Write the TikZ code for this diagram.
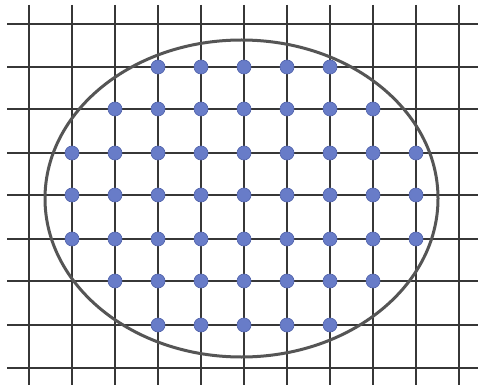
\documentclass[tikz,border=0pt]{standalone}
\definecolor{dotblue}{RGB}{104,124,200}
\definecolor{dotedge}{RGB}{80,98,170}
\definecolor{gridc}{RGB}{55,55,55}
\definecolor{ellc}{RGB}{85,85,85}
\tikzset{
  gridline/.style={draw=gridc, line width=1.1pt},
  ovalline/.style={draw=ellc, line width=3pt},
  dotmark/.style={circle, fill=dotblue, draw=dotedge, line width=0.6pt, minimum size=14pt, inner sep=0pt}
}
\begin{document}
\begin{tikzpicture}[x=1pt,y=-1pt]
\useasboundingbox (0,0) rectangle (478,387);
\fill[white] (0,0) rectangle (478,387);
\foreach \gx in {29,72,115,158,201,244,287,330,373,416,459}
  \draw[gridline] (\gx,5) -- (\gx,385);
\foreach \gy in {24,67,109,153,195,239,281,325,368}
  \draw[gridline] (7,\gy) -- (478,\gy);
\draw[ovalline] (241.5,198.5) ellipse [x radius=196.5, y radius=158.5];
% rows: y, first column index, last column index (columns at 72 + 43*i)
\foreach \ry/\ca/\cb in {67/2/6, 109/1/7, 153/0/8, 195/0/8, 239/0/8, 281/1/7, 325/2/6}{
  \foreach \ci in {\ca,...,\cb}{
    \node[dotmark] (d-\ry-\ci) at ({72+43*\ci},\ry) {};
  }
}
\end{tikzpicture}
\end{document}
